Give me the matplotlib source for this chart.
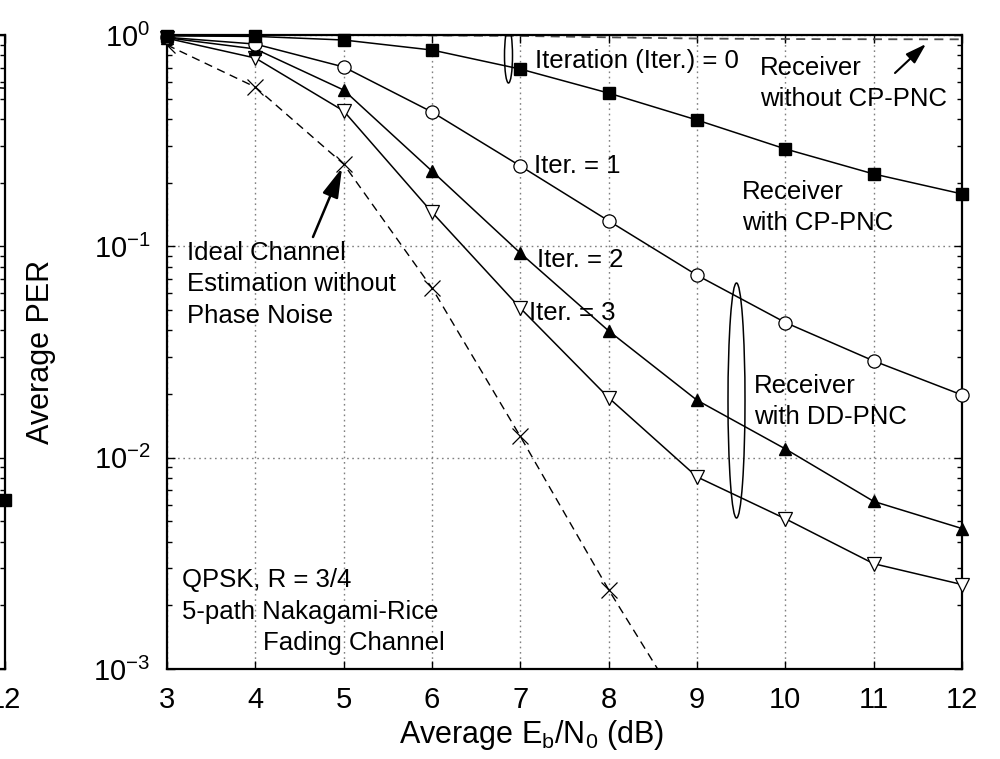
import matplotlib
matplotlib.use('Agg')
import matplotlib.pyplot as plt
from matplotlib.patches import Ellipse
from matplotlib.ticker import LogLocator, NullFormatter, FixedLocator

plt.rcParams['font.family'] = ['Liberation Sans', 'DejaVu Sans']
plt.rcParams['mathtext.fontset'] = 'custom'
plt.rcParams['mathtext.rm'] = 'Liberation Sans'
plt.rcParams['mathtext.it'] = 'Liberation Sans:italic'
plt.rcParams['mathtext.bf'] = 'Liberation Sans:bold'
plt.rcParams['axes.unicode_minus'] = True

# ---------------- data ----------------
snr = [3, 4, 5, 6, 7, 8, 9, 10, 11, 12]
per_iter0 = [0.99, 0.985, 0.947, 0.849, 0.690, 0.531, 0.396, 0.289, 0.220, 0.177]
per_iter1 = [0.975, 0.906, 0.706, 0.432, 0.240, 0.132, 0.0730, 0.0436, 0.0287, 0.0198]
per_iter2 = [0.97, 0.859, 0.549, 0.227, 0.0929, 0.0398, 0.0187, 0.0110, 0.00621, 0.00462]
per_iter3 = [0.965, 0.778, 0.437, 0.145, 0.0510, 0.0192, 0.00811, 0.00514, 0.00315, 0.00251]
snr_ideal = [3, 4, 5, 6, 7, 8, 9]
per_ideal = [0.897, 0.567, 0.245, 0.0635, 0.0126, 0.00237, 0.0005]
per_no_cp = [1.0, 1.0, 1.0, 0.995, 0.99, 0.975, 0.962, 0.957, 0.955, 0.954]

# neighbouring (cropped) panel on the left
left_snr = [11, 12]
left_line = [0.60, 0.56]
left_marker_snr = [12]
left_marker_per = [0.0063]

xticks = [3, 4, 5, 6, 7, 8, 9, 10, 11, 12]
yticks = [1e-3, 1e-2, 1e-1, 1e0]

W, H = 1000, 759
L, R, T, B = 167, 962, 35, 669

fig = plt.figure(figsize=(W / 100, H / 100), dpi=100)
ax = fig.add_axes([L / W, 1 - B / H, (R - L) / W, (B - T) / H])


def style_axes(a):
    a.set_yscale('log')
    a.set_xlim(3, 12)
    a.set_ylim(1e-3, 1)
    a.xaxis.set_major_locator(FixedLocator(xticks))
    a.yaxis.set_major_locator(FixedLocator(yticks))
    a.yaxis.set_minor_locator(LogLocator(base=10, subs=range(2, 10), numticks=20))
    a.yaxis.set_minor_formatter(NullFormatter())
    a.tick_params(which='both', direction='in', top=True, right=True, width=1.0)
    a.tick_params(which='major', length=6, labelsize=21)
    a.tick_params(which='minor', length=3.5)
    a.tick_params(axis='x', which='major', pad=12)
    a.tick_params(axis='y', which='major', pad=12)
    for s in a.spines.values():
        s.set_linewidth(1.6)


style_axes(ax)
ax.grid(True, which='major', linestyle=(0, (1.2, 2.6)), color='0.5', linewidth=1.0)
ax.set_axisbelow(True)

lkw = dict(color='black', linewidth=1.1, clip_on=False)
ax.plot(snr, per_no_cp, linestyle=(0, (5, 3.5)), color='0.3', linewidth=1.3, zorder=2)
ax.plot(snr_ideal, per_ideal, marker='x', markersize=11, markeredgewidth=0.9,
        linestyle=(0, (6, 4)), color='black', linewidth=1.0, zorder=2.5)
ax.plot(snr, per_iter3, marker='v', markersize=9.5, markerfacecolor='white',
        markeredgecolor='black', markeredgewidth=0.9, **lkw, zorder=3)
ax.plot(snr, per_iter2, marker='^', markersize=9, markerfacecolor='black',
        markeredgecolor='black', **lkw, zorder=3.1)
ax.plot(snr, per_iter1, marker='o', markersize=9.5, markerfacecolor='white',
        markeredgecolor='black', markeredgewidth=0.9, **lkw, zorder=3.2)
ax.plot(snr, per_iter0, marker='s', markersize=9, markerfacecolor='black',
        markeredgecolor='black', **lkw, zorder=3.3)

ax.set_xlabel(r'Average E$_\mathrm{b}$/N$_\mathrm{0}$ (dB)', fontsize=22)
ax.set_ylabel('Average PER', fontsize=22)
ax.xaxis.set_label_coords((532 - L) / (R - L), 1 - (718 - T) / (B - T))
ax.yaxis.set_label_coords((56 - L) / (R - L), 0.5)


def P(xp, yp):
    return ((xp - L) / (R - L), 1 - (yp - T) / (B - T))


fs = 18.5


def txt(xp, yp, s):
    ax.text(*P(xp, yp), s, transform=ax.transAxes, fontsize=fs,
            ha='left', va='baseline', zorder=5)


txt(535, 68, 'Iteration (Iter.) = 0')
txt(534, 173, 'Iter. = 1')
txt(537, 267, 'Iter. = 2')
txt(529, 320, 'Iter. = 3')
txt(760, 75, 'Receiver')
txt(760, 106, 'without CP-PNC')
txt(742, 199, 'Receiver')
txt(742, 230, 'with CP-PNC')
txt(754, 393, 'Receiver')
txt(754, 424, 'with DD-PNC')
txt(187, 260, 'Ideal Channel')
txt(187, 291, 'Estimation without')
txt(187, 323, 'Phase Noise')
txt(182, 587, 'QPSK, R = 3/4')
txt(182, 619, '5-path Nakagami-Rice')
txt(263, 650, 'Fading Channel')

# ellipses
for (cx, cy, w, h) in [(508.5, 55.5, 8, 55), (736.5, 400.5, 17, 235)]:
    c = P(cx, cy)
    ax.add_patch(Ellipse(c, w / (R - L), h / (B - T), transform=ax.transAxes,
                         fill=False, edgecolor='black', linewidth=1.1, zorder=4))

# arrows
ax.annotate('', xy=(snr_ideal[2], per_ideal[2]), xycoords='data',
            xytext=P(313, 237), textcoords='axes fraction',
            arrowprops=dict(arrowstyle='-|>,head_length=0.9,head_width=0.25',
                            color='black', linewidth=1.8, mutation_scale=20,
                            shrinkA=0, shrinkB=3))
ax.annotate('', xy=P(926, 44), xycoords='axes fraction',
            xytext=P(895, 73), textcoords='axes fraction',
            arrowprops=dict(arrowstyle='-|>,head_length=0.7,head_width=0.22',
                            color='black', linewidth=1.5, mutation_scale=18,
                            shrinkA=0, shrinkB=0))

# cropped neighbouring panel
axL = fig.add_axes([(5 - (R - L)) / W, 1 - B / H, (R - L) / W, (B - T) / H])
style_axes(axL)
axL.set_yticklabels([])
axL.set_xticklabels(['' for _ in xticks[:-1]] + [str(xticks[-1])])
axL.plot(left_snr, left_line, color='black', linewidth=1.1)
axL.plot(left_marker_snr, left_marker_per, marker='s', markersize=9,
         color='black', linestyle='none', clip_on=False)

fig.savefig('out.png', dpi=100)
